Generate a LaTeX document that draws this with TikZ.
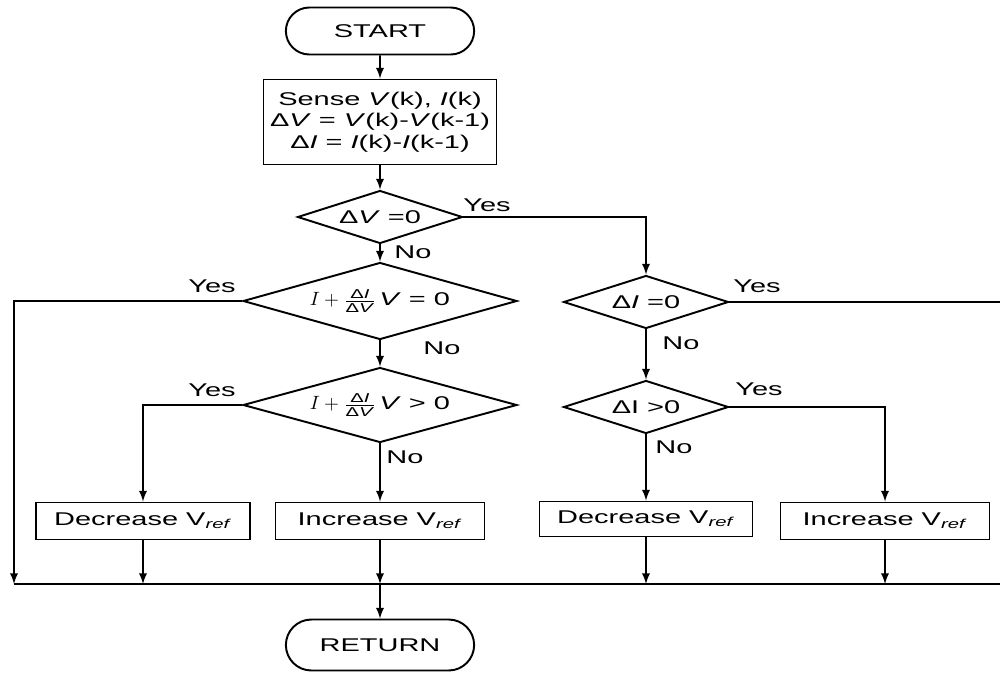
\documentclass[tikz,border=0pt]{standalone}
\usepackage{amsmath}
\usepackage{fontspec}
\setmainfont{Liberation Sans}[FakeStretch=1.57]
\usetikzlibrary{arrows,shapes,positioning,calc}

\begin{document}
\begin{tikzpicture}[x=0.02cm,y=-0.02cm,>=latex,font=\fontsize{10.5}{12.2}\selectfont,
    term/.style={rounded rectangle,draw,line width=1.1pt,minimum width=4cm},
    proc/.style={rectangle,draw,line width=1.1pt,inner sep=0pt},
    decide/.style={diamond,draw,line width=1.1pt,inner sep=0pt},
    lbl/.style={inner sep=0pt},
    conn/.style={->,line width=1.1pt}]
      \clip (0,0) rectangle (1000,673);

      % main column
      \node[term,minimum height=0.94cm] (start) at (380,31) {START};
      \node[proc,minimum width=4.66cm,minimum height=1.7cm,align=center] (sense) at (380,122)
        {Sense \textit{V}(k), \textit{I}(k)\\ Δ\textit{V} = \textit{V}(k)-\textit{V}(k-1)\\ Δ\textit{I} = \textit{I}(k)-\textit{I}(k-1)};
      \node[decide,aspect=3.11,minimum width=3.3cm,minimum height=1.06cm] (dv) at (380,217) {Δ\textit{V} =0};
      \node[decide,aspect=3.56,minimum width=5.48cm,minimum height=1.54cm] (eq) at (380,301)
        {$I+\frac{\text{Δ\textit{I}}}{\text{Δ\textit{V}}}$\,\textit{V} = 0};
      \node[decide,aspect=3.65,minimum width=5.48cm,minimum height=1.5cm] (gt) at (380,405)
        {$I+\frac{\text{Δ\textit{I}}}{\text{Δ\textit{V}}}$\,\textit{V} > 0};
      \node[proc,minimum width=4.28cm,minimum height=0.74cm] (dec1) at (143,521) {Decrease V\textsubscript{\textit{ref}}};
      \node[proc,minimum width=4.18cm,minimum height=0.74cm] (inc1) at (380,521) {Increase V\textsubscript{\textit{ref}}};
      \node[term,minimum height=1.02cm] (ret) at (380,645) {RETURN};

      % right column
      \node[decide,aspect=3.11,minimum width=3.3cm,minimum height=1.06cm] (di) at (646,302) {Δ\textit{I} =0};
      \node[decide,aspect=3.11,minimum width=3.3cm,minimum height=1.06cm] (dip) at (646,407) {ΔI >0};
      \node[proc,minimum width=4.26cm,minimum height=0.7cm] (dec2) at (646,519) {Decrease V\textsubscript{\textit{ref}}};
      \node[proc,minimum width=4.18cm,minimum height=0.74cm] (inc2) at (885,521) {Increase V\textsubscript{\textit{ref}}};

      \coordinate (lc) at (14,584);
      \coordinate (jn) at (380,584);
      \coordinate (rc) at (1010,584);

      \draw[conn] (start) -- (sense);
      \draw[conn] (sense) -- (dv);
      \draw[conn] (dv) -- (eq);
      \draw[conn] (dv.east) -| (di.north);
      \draw[conn] (eq.west) -| (lc);
      \draw[conn] (eq) -- (gt);
      \draw[conn] (gt.west) -| (dec1.north);
      \draw[conn] (gt) -- (inc1);
      \draw[conn] (di) -- (dip);
      \draw[line width=1.1pt] (di.east) -| (rc);
      \draw[conn] (dip.east) -| (inc2.north);
      \draw[conn] (dip) -- (dec2);
      \draw[line width=1.1pt] (lc) -- (rc);
      \draw[conn] (dec1.south) -- (dec1.south |- lc);
      \draw[conn] (inc1.south) -- (jn);
      \draw[conn] (dec2.south) -- (dec2.south |- lc);
      \draw[conn] (inc2.south) -- (inc2.south |- lc);
      \draw[conn] (jn) -- (ret);

      \node[lbl] (y1) at (487,205) {Yes};
      \node[lbl] (n1) at (413,252) {No};
      \node[lbl] (y2) at (212,286) {Yes};
      \node[lbl] (n2) at (442,348) {No};
      \node[lbl] (y3) at (212,390) {Yes};
      \node[lbl] (n3) at (405,457) {No};
      \node[lbl] (y4) at (757,286) {Yes};
      \node[lbl] (n4) at (681,343) {No};
      \node[lbl] (y5) at (759,389) {Yes};
      \node[lbl] (n5) at (674,447) {No};
    \end{tikzpicture}
\end{document}
